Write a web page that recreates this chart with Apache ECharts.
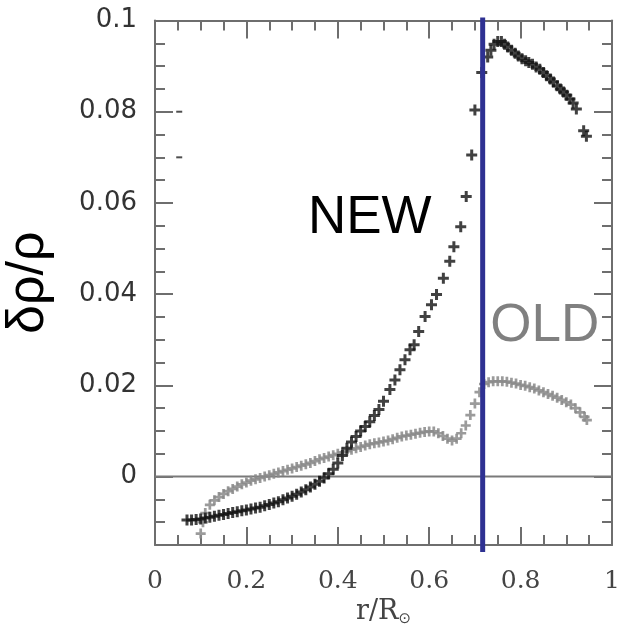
<!DOCTYPE html>
<html>
<head>
<meta charset="utf-8">
<script src="https://cdn.jsdelivr.net/npm/echarts@6/dist/echarts.min.js"></script>
<style>
html,body{margin:0;padding:0;background:#fff;}
#chart{width:618px;height:627px;}
</style>
</head>
<body>
<div id="chart"></div>
<script>
// ---- data ----
const xMajorTicks = [0, 0.2, 0.4, 0.6, 0.8, 1];
const xTickLabels = ['0', '0.2', '0.4', '0.6', '0.8', '1'];
const xMinorTicks = [0.05, 0.1, 0.15, 0.25, 0.3, 0.35, 0.45, 0.5, 0.55, 0.65, 0.7, 0.75, 0.85, 0.9, 0.95];
const yMajorTicks = [0, 0.02, 0.04, 0.06, 0.08, 0.1];
const yTickLabels = ['0', '0.02', '0.04', '0.06', '0.08', '0.1'];
const yMinorTicks = [-0.01, -0.005, 0.005, 0.01, 0.015, 0.025, 0.03, 0.035, 0.045, 0.05, 0.055, 0.065, 0.07, 0.075, 0.085, 0.09, 0.095];

const newX = [0.07,0.08,0.09,0.10,0.11,0.12,0.13,0.14,0.15,0.16,0.17,0.18,0.19,0.20,0.21,0.22,0.23,0.24,0.25,0.26,0.27,0.28,0.29,0.30,0.31,0.32,0.33,0.34,0.35,0.36,0.37,0.38,0.39,0.40,0.41,0.42,0.43,0.44,0.45,0.46,0.47,0.48,0.49,0.50,0.514,0.525,0.536,0.547,0.558,0.567,0.577,0.591,0.605,0.616,0.631,0.645,0.654,0.669,0.681,0.693,0.700,0.715,0.728,0.735,0.742,0.750,0.758,0.765,0.772,0.780,0.788,0.795,0.803,0.811,0.818,0.826,0.834,0.842,0.850,0.857,0.865,0.872,0.880,0.887,0.894,0.901,0.908,0.915,0.922,0.938,0.944];
const newY = [-0.0095,-0.0095,-0.0094,-0.0093,-0.0091,-0.0089,-0.0087,-0.0085,-0.0083,-0.0081,-0.0079,-0.0077,-0.0075,-0.0073,-0.0071,-0.0069,-0.0067,-0.0064,-0.0061,-0.0058,-0.0055,-0.0051,-0.0047,-0.0043,-0.0039,-0.0034,-0.0029,-0.0023,-0.0017,-0.0010,-0.0003,0.0006,0.0016,0.0030,0.0046,0.0062,0.0076,0.0088,0.0100,0.0110,0.0120,0.0134,0.0147,0.0165,0.0191,0.0212,0.0234,0.0256,0.0278,0.0289,0.0318,0.0351,0.0377,0.0399,0.0435,0.0472,0.0504,0.0548,0.0614,0.0705,0.0804,0.0886,0.0920,0.0935,0.0948,0.0954,0.0954,0.0948,0.0942,0.0935,0.0928,0.0922,0.0916,0.0912,0.0908,0.0904,0.0898,0.0893,0.0886,0.0879,0.0872,0.0865,0.0857,0.0850,0.0843,0.0836,0.0828,0.0819,0.0806,0.0758,0.0746];

const oldX = [0.100,0.105,0.110,0.12,0.13,0.14,0.15,0.16,0.17,0.18,0.19,0.20,0.21,0.22,0.23,0.24,0.25,0.26,0.27,0.28,0.29,0.30,0.31,0.32,0.33,0.34,0.35,0.36,0.37,0.38,0.39,0.40,0.41,0.42,0.43,0.44,0.45,0.46,0.47,0.48,0.49,0.50,0.51,0.52,0.53,0.54,0.55,0.56,0.57,0.58,0.59,0.60,0.61,0.62,0.63,0.64,0.65,0.66,0.67,0.68,0.69,0.70,0.71,0.72,0.73,0.74,0.75,0.76,0.77,0.78,0.79,0.80,0.81,0.82,0.83,0.84,0.85,0.86,0.87,0.88,0.89,0.90,0.91,0.92,0.93,0.94,0.945];
const oldY = [-0.0125,-0.0100,-0.0080,-0.0062,-0.0052,-0.0045,-0.0038,-0.0032,-0.0027,-0.0022,-0.0017,-0.0013,-0.0009,-0.0006,-0.0003,0.0000,0.0003,0.0006,0.0009,0.0012,0.0015,0.0018,0.0021,0.0024,0.0027,0.0030,0.0034,0.0038,0.0041,0.0044,0.0047,0.0050,0.0053,0.0056,0.0059,0.0062,0.0065,0.0068,0.0071,0.0073,0.0075,0.0077,0.0079,0.0082,0.0085,0.0088,0.0090,0.0092,0.0094,0.0096,0.0098,0.0099,0.0099,0.0095,0.0089,0.0083,0.0079,0.0083,0.0095,0.0112,0.0135,0.0160,0.0185,0.0203,0.0207,0.0209,0.0209,0.0209,0.0208,0.0206,0.0204,0.0201,0.0199,0.0196,0.0193,0.0189,0.0185,0.0181,0.0177,0.0173,0.0168,0.0163,0.0158,0.0150,0.0141,0.0131,0.0124];

const edgeX = [0.053, 0.053];
const edgeY = [0.080, 0.070];

const czBase = 0.717;            // vertical marker (base of convection zone)
const zeroLine = [[0, 0], [1, 0]];
const annotX = [0.47, 0.853];
const annotY = [0.0567, 0.0329];
const annotText = ['NEW', 'OLD'];
const annotColor = ['#000000', '#808080'];

// ---- chart ----
const zip = (xs, ys) => xs.map((x, i) => [x, ys[i]]);
const plusPath = 'path://M0,4H4V0H7V4H11V7H7V11H4V7H0Z';
const frameColor = '#6e6e6e';
const X_MIN = 0, X_MAX = 1, Y_MIN = -0.015, Y_MAX = 0.1;

function xAxisDef(pos, vals, len, withLabel, withLine) {
  return {
    type: 'value', position: pos, min: X_MIN, max: X_MAX,
    axisLine: { show: withLine, onZero: false, lineStyle: { color: frameColor, width: 2 } },
    axisTick: { show: true, inside: true, length: len, customValues: vals, lineStyle: { color: frameColor, width: 2 } },
    axisLabel: withLabel ? {
      show: true, customValues: xMajorTicks, margin: 24,
      formatter: v => xTickLabels[xMajorTicks.indexOf(v)],
      fontFamily: 'DejaVu Serif', fontSize: 25, color: '#444444'
    } : { show: false },
    splitLine: { show: false }
  };
}
function yAxisDef(pos, vals, len, withLabel, withLine) {
  return {
    type: 'value', position: pos, min: Y_MIN, max: Y_MAX,
    axisLine: { show: withLine, onZero: false, lineStyle: { color: frameColor, width: 2 } },
    axisTick: { show: true, inside: true, length: len, customValues: vals, lineStyle: { color: frameColor, width: 2 } },
    axisLabel: withLabel ? {
      show: true, customValues: yMajorTicks, margin: 18,
      formatter: v => yTickLabels[yMajorTicks.indexOf(v)],
      fontFamily: 'DejaVu Sans', fontSize: 26, color: '#333333'
    } : { show: false },
    splitLine: { show: false }
  };
}

const xAxes = [
  xAxisDef('bottom', xMajorTicks, 18, true, true),
  xAxisDef('bottom', xMinorTicks, 10, false, false),
  xAxisDef('top', xMajorTicks, 18, false, true),
  xAxisDef('top', xMinorTicks, 10, false, false)
];
Object.assign(xAxes[0], {
  name: 'r/R{sub|⊙}', nameLocation: 'middle', nameGap: 51,
  nameTextStyle: {
    fontFamily: 'DejaVu Serif', fontSize: 27, color: '#444444',
    rich: { sub: { fontFamily: 'DejaVu Sans', fontSize: 15, color: '#444444', verticalAlign: 'bottom', padding: [14, 0, 0, 0] } }
  }
});
const yAxes = [
  yAxisDef('left', yMajorTicks, 18, true, true),
  yAxisDef('left', yMinorTicks, 10, false, false),
  yAxisDef('right', yMajorTicks, 18, false, true),
  yAxisDef('right', yMinorTicks, 10, false, false)
];
Object.assign(yAxes[0], {
  name: 'δρ/ρ', nameLocation: 'middle', nameGap: 100, nameRotate: 90,
  nameTextStyle: { fontFamily: 'Liberation Sans', fontSize: 52, color: '#000' }
});

const chart = echarts.init(document.getElementById('chart'), null, { renderer: 'canvas' });
chart.setOption({
  animation: false,
  backgroundColor: '#ffffff',
  grid: { left: 155, right: 6, top: 20.5, bottom: 82, containLabel: false, outerBoundsMode: 'none' },
  xAxis: xAxes,
  yAxis: yAxes,
  series: [
    {
      type: 'line', data: zeroLine, showSymbol: false, symbol: 'none',
      lineStyle: { color: '#7a7a7a', width: 2 }, z: 1, silent: true
    },
    {
      name: 'OLD', type: 'scatter', data: zip(oldX, oldY),
      symbol: plusPath, symbolSize: 10,
      itemStyle: { color: '#8a8a8a', opacity: 0.85 }, z: 2
    },
    {
      name: 'NEW', type: 'scatter', data: zip(newX, newY),
      symbol: plusPath, symbolSize: 11,
      itemStyle: { color: '#111111' }, z: 3
    },
    {
      name: 'edge', type: 'scatter', data: zip(edgeX, edgeY),
      symbol: 'rect', symbolSize: [6, 2],
      itemStyle: { color: '#222' }, z: 3
    },
    {
      type: 'custom', data: [[czBase, 0]], clip: false, z: 5,
      renderItem: (params, api) => {
        const top = api.coord([api.value(0), Y_MAX]);
        const bot = api.coord([api.value(0), Y_MIN]);
        return {
          type: 'line',
          shape: { x1: top[0], y1: top[1] - 3, x2: bot[0], y2: bot[1] + 7 },
          style: { stroke: '#2e3192', lineWidth: 5 }
        };
      }
    },
    {
      type: 'custom', clip: false, z: 6, silent: true,
      data: annotX.map((x, i) => [x, annotY[i], i]),
      renderItem: (params, api) => {
        const p = api.coord([api.value(0), api.value(1)]);
        const i = api.value(2);
        return {
          type: 'text',
          x: p[0], y: p[1],
          style: {
            text: annotText[i], fill: annotColor[i],
            font: '53px "Liberation Sans"', align: 'center', verticalAlign: 'middle'
          }
        };
      }
    }
  ]
});
</script>
</body>
</html>
